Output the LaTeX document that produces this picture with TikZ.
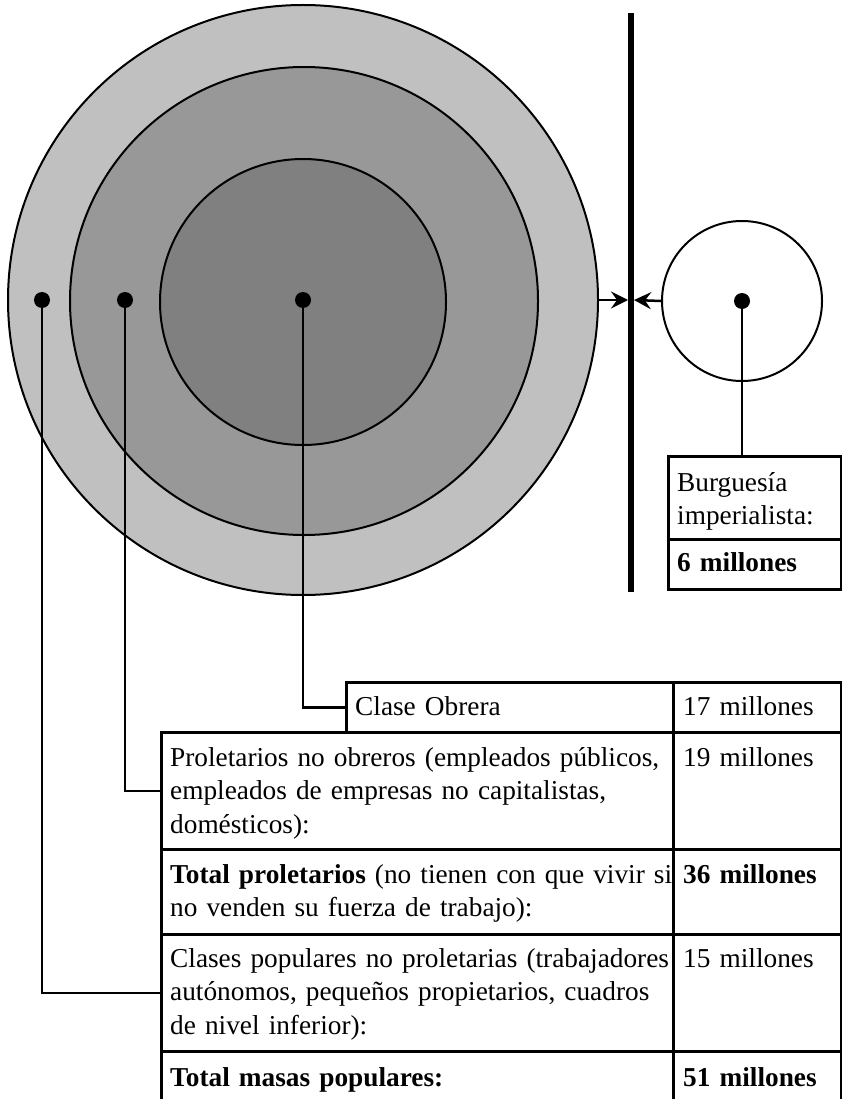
\documentclass[tikz,border=0pt]{standalone}
\usepackage{fontspec}
\setmainfont{Liberation Serif}
\usetikzlibrary{arrows.meta}
\definecolor{ringA}{RGB}{192,192,192}
\definecolor{ringB}{RGB}{152,152,152}
\definecolor{ringC}{RGB}{128,128,128}
\tikzset{
  ring/.style={circle, draw=black, line width=2pt, inner sep=0pt},
  dotnode/.style={circle, fill=black, inner sep=0pt, minimum size=16pt},
  cell/.style={draw=black, line width=3pt, rectangle, anchor=north west, inner sep=0pt},
  txt/.style={anchor=base west, inner sep=0pt, align=left, text width=#1,
              font=\fontsize{27.3}{33.5}\selectfont},
  txt/.default=600pt,
  link/.style={line width=2.5pt},
  pusharrow/.style={line width=2.5pt, -{Stealth[length=17pt,width=17pt,inset=6pt]}}
}
\begin{document}
\begin{tikzpicture}[x=1pt,y=-1pt]
\useasboundingbox (0,0) rectangle (841,1099);
% circles
\node[ring, fill=ringA, minimum size=590pt] (outer) at (303,300) {};
\node[ring, fill=ringB, minimum size=468pt] (middle) at (304,301) {};
\node[ring, fill=ringC, minimum size=286pt] (inner) at (303,302) {};
\node[ring, fill=white, minimum size=160pt] (small) at (742,301) {};
% dots
\node[dotnode] (d1) at (42,300) {};
\node[dotnode] (d2) at (125,300) {};
\node[dotnode] (d3) at (303,300) {};
\node[dotnode] (d4) at (742,301) {};
% separating bar
\coordinate (bartop) at (631,13);
\coordinate (barbot) at (631,592);
\draw[line width=6pt] (bartop) -- (barbot);
\coordinate (barL) at (628,300);
\coordinate (barR) at (634,300);
\draw[pusharrow] (outer.east) -- (barL);
\draw[pusharrow] (small.west) -- (barR);
% Burguesia box
\node[cell, minimum width=173pt, minimum height=83pt] (bu) at (667,455) {};
\node[cell, minimum width=173pt, minimum height=50pt] (bm) at (667,538) {};
\node[txt=160pt] (tbu) at (677,491) {Burguesía\\imperialista:};
\node[txt=160pt] (tbm) at (677,571) {\textbf{6 millones}};
\draw[link] (d4) -- (d4 |- bu.north);
% table cells
\node[cell, minimum width=327pt, minimum height=50pt] (co) at (345,681) {};
\node[cell, minimum width=168pt, minimum height=50pt] (c17) at (672,681) {};
\node[cell, minimum width=512pt, minimum height=117pt] (pn) at (160,731) {};
\node[cell, minimum width=168pt, minimum height=117pt] (c19) at (672,731) {};
\node[cell, minimum width=512pt, minimum height=85pt] (tp) at (160,848) {};
\node[cell, minimum width=168pt, minimum height=85pt] (c36) at (672,848) {};
\node[cell, minimum width=512pt, minimum height=117pt] (cp) at (160,933) {};
\node[cell, minimum width=168pt, minimum height=117pt] (c15) at (672,933) {};
\node[cell, minimum width=512pt, minimum height=70pt] (tm) at (160,1050) {};
\node[cell, minimum width=168pt, minimum height=70pt] (c51) at (672,1050) {};
% table texts
\node[txt=310pt] (tco) at (355,715) {Clase Obrera};
\node[txt=155pt] (t17) at (683,715) {17 millones};
\node[txt] (tpn) at (170,766) {Proletarios no obreros (empleados públicos,\\empleados de empresas no capitalistas,\\domésticos):};
\node[txt=155pt] (t19) at (683,766) {19 millones};
\node[txt] (ttp) at (170,883) {\textbf{Total proletarios} (no tienen con que vivir si\\no venden su fuerza de trabajo):};
\node[txt=155pt] (t36) at (683,883) {\textbf{36 millones}};
\node[txt] (tcp) at (170,967) {Clases populares no proletarias (trabajadores\\autónomos, pequeños propietarios, cuadros\\de nivel inferior):};
\node[txt=155pt] (t15) at (683,967) {15 millones};
\node[txt] (ttm) at (170,1086) {\textbf{Total masas populares:}};
\node[txt=155pt] (t51) at (683,1086) {\textbf{51 millones}};
% connectors
\draw[link] (d3) |- (co.west);
\draw[link] (d2) |- (pn.west);
\draw[link] (d1) |- (cp.west);
\end{tikzpicture}
\end{document}
